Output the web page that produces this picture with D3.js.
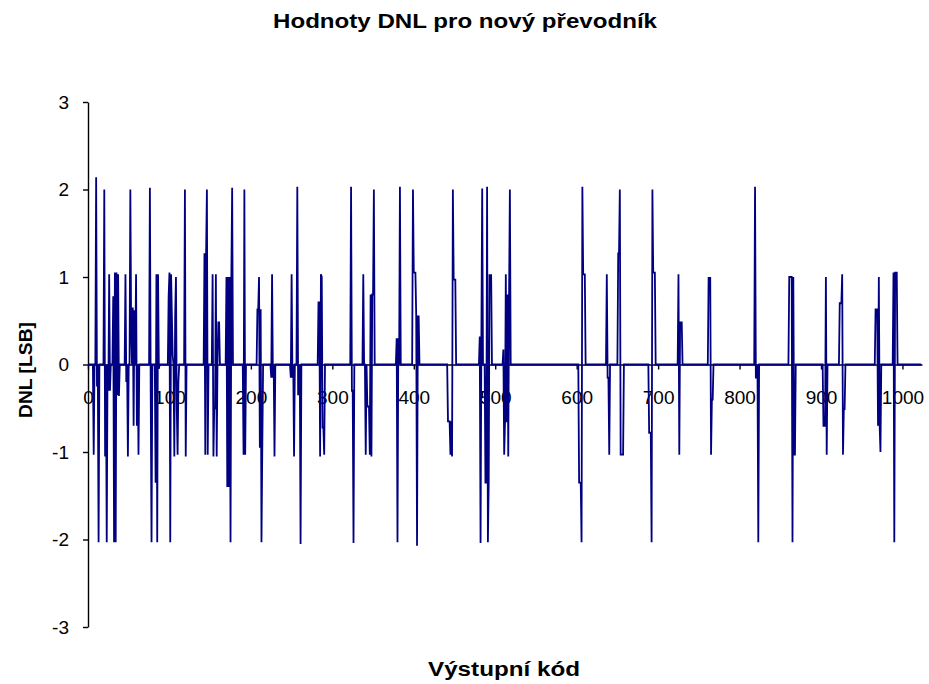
<!DOCTYPE html>
<html>
<head>
<meta charset="utf-8">
<script src="https://cdn.jsdelivr.net/npm/d3@7/dist/d3.min.js"></script>
<style>
  body { margin: 0; background: #fff; }
  svg { display: block; font-family: "Liberation Sans", Arial, sans-serif; }
  .axis path, .axis line { stroke: #000; stroke-width: 1.4; }
  .axis text { font-size: 19px; fill: #000; }
</style>
</head>
<body>
<svg id="chart" width="929" height="684"></svg>
<script>
  'use strict';

  var chartTitle = 'Hodnoty DNL pro nový převodník',
    xTitle = 'Výstupní kód',
    yTitle = 'DNL [LSB]',
    codeCount = 1024,
    xTicks = [0, 100, 200, 300, 400, 500, 600, 700, 800, 900, 1000],
    yTicks = [-3, -2, -1, 0, 1, 2, 3];

  // codes where DNL differs from zero, everything else is 0
  var spikeCodes = [
    7, 10, 11, 13, 20, 21, 23, 25, 26, 27, 31, 32, 33, 34, 35, 36, 37, 38,
    46, 47, 49, 52, 53, 55, 56, 57, 59, 60, 62,
    76, 77, 78, 83, 84, 85, 86, 87,
    99, 100, 101, 102, 103, 104, 106, 107, 108, 109, 110, 111, 119, 120,
    143, 144, 145, 146, 147, 153, 154, 155, 156, 157, 158, 160, 161,
    170, 171, 172, 173, 174, 175, 176, 177, 191, 192, 193,
    208, 209, 210, 211, 212, 213, 214, 225, 226, 227, 229,
    249, 250, 251, 253, 257, 258, 259, 261,
    283, 284, 285, 286, 287, 288, 289, 290,
    323, 324, 325, 326, 338, 341, 343, 344, 345, 346, 347, 348, 349, 350, 351,
    379, 380, 381, 383, 399, 400, 401, 402, 403, 404, 405, 406,
    442, 443, 444, 445, 446, 447, 448, 449, 450, 451,
    481, 482, 483, 484, 488, 489, 490, 491, 492, 493, 494, 495,
    510, 511, 512, 513, 514, 515, 516, 517, 518,
    603, 604, 605, 606, 607, 608, 609, 610,
    637, 638, 639, 640, 651, 652, 653, 654, 655, 656, 657,
    689, 690, 691, 692, 693, 694, 695, 696,
    725, 726, 727, 728, 729, 762, 763, 764, 765, 766, 767,
    819, 820, 821, 823,
    861, 862, 863, 864, 865, 866, 867, 868,
    903, 904, 905, 906, 907, 923, 924, 925, 926, 927, 928, 929,
    967, 968, 969, 970, 971, 972, 973, 989, 990, 991, 992, 993
  ];
  var spikeValues = [
    -1.03, 2.14, -0.25, -2.03, 2.0, -1.05, -2.03, -0.3, 1.03, -0.3, 0.78, -2.03, 1.05, -2.03, 1.05, -0.35, 1.03, -0.36,
    1.03, -0.2, -1.05, 2.0, 0.37, 0.65, -0.7, 0.62, 1.03, -0.7, -1.03,
    2.02, -0.32, -2.03, -1.35, 1.03, -2.03, 1.03, -0.05,
    0.78, 1.05, -2.03, 1.03, 0.55, 0.1, -1.05, 0.55, 1.0, -0.5, -1.03, -0.2, 2.0, -1.05,
    1.27, -1.03, 1.27, 2.0, -1.03, 1.03, -1.05, -0.5, -0.5, 1.03, -1.05, 0.48, 0.48,
    1.0, -1.4, 1.0, -1.4, 1.0, -2.03, 1.0, 2.02, -1.03, 2.0, -1.03,
    0.63, 0.63, 1.0, -0.95, 0.63, -2.03, -0.95, -0.15, 1.03, -0.15, -1.05,
    -0.15, 1.03, -0.15, -1.05, 2.03, -0.34, -0.34, -2.05,
    0.71, 0.71, -1.05, 1.03, 1.0, -0.72, -0.72, -1.03,
    2.03, -0.3, -0.3, -2.04, 1.03, -1.03, -0.48, -0.48, -0.48, -1.03, 0.8, -1.05, 0.8, 0.8, 2.0,
    0.3, -2.03, 0.3, 2.03, 2.0, 1.05, 1.05, 1.05, 0.55, -2.07, 0.55, 0.55,
    -0.65, -0.65, -0.65, -1.03, -0.65, -1.05, 2.0, 0.97, 0.97, 0.97,
    0.32, -2.04, 0.32, 2.01, -1.35, -1.35, 2.03, -2.03, -1.35, 1.02, 1.02, 1.02,
    0.17, -1.03, -0.66, 1.03, -0.66, 0.8, -1.05, 0.8, 2.0,
    -1.35, -1.35, -1.35, -2.03, 2.03, 1.03, 1.03, 1.03,
    1.03, -0.15, -0.15, -1.03, 1.27, 1.27, 2.0, -1.03, -1.03, -1.03, -1.03,
    -0.78, -0.78, -0.78, -2.03, 2.0, 1.05, 1.05, 1.05,
    1.03, -1.03, 0.48, 0.48, 0.48, 0.99, 0.99, 0.99, -1.03, -0.4, -0.4,
    2.03, -0.15, -0.15, -2.03,
    1.0, 1.0, 1.0, 1.0, -2.03, 1.0, -1.03, -1.03,
    -0.7, -0.7, -0.7, 1.0, -1.03, 0.7, 0.7, 0.7, 1.03, -1.03, -0.51, -0.51,
    0.63, 0.63, 0.63, -0.7, 1.0, -0.7, -1.0, 1.05, -2.03, 1.05, 1.05, 1.05
  ];

  var dnl = d3.range(codeCount).map(function () { return 0; });
  spikeCodes.forEach(function (c, i) { dnl[c] = spikeValues[i]; });

  var svg = d3.select('#chart');
  svg.append('rect').attr('width', 929).attr('height', 684).attr('fill', '#fff');

  var x = d3.scaleLinear().domain([0, codeCount]).range([88, 922]),
    y = d3.scaleLinear().domain([-3, 3]).range([627, 102]);

  // plain hyphen like the original, not d3's unicode minus
  var plain = function (d) { return String(d); };

  // x axis sits on the zero line, labels pushed below it
  svg.append('g')
    .attr('class', 'axis')
    .attr('transform', 'translate(0,' + y(0) + ')')
    .call(d3.axisBottom(x).tickValues(xTicks).tickFormat(plain)
      .tickSize(5).tickSizeOuter(0).tickPadding(21));

  svg.append('g')
    .attr('class', 'axis')
    .attr('transform', 'translate(' + x(0) + ',0)')
    .call(d3.axisLeft(y).tickValues(yTicks).tickFormat(plain)
      .tickSize(5).tickSizeOuter(0).tickPadding(14));

  var line = d3.line()
    .x(function (d, i) { return x(i); })
    .y(function (d) { return y(d); });

  svg.append('path')
    .datum(dnl)
    .attr('fill', 'none')
    .attr('stroke', '#000080')
    .attr('stroke-width', 1.8)
    .attr('d', line);

  // the original's bold text is drawn wide, so stretch the glyphs a bit
  svg.append('text')
    .attr('x', 465).attr('y', 28)
    .attr('text-anchor', 'middle')
    .attr('font-size', 20).attr('font-weight', 'bold')
    .attr('textLength', 384).attr('lengthAdjust', 'spacingAndGlyphs')
    .text(chartTitle);

  svg.append('text')
    .attr('x', 504).attr('y', 676)
    .attr('text-anchor', 'middle')
    .attr('font-size', 20).attr('font-weight', 'bold')
    .attr('textLength', 152).attr('lengthAdjust', 'spacingAndGlyphs')
    .text(xTitle);

  svg.append('text')
    .attr('transform', 'translate(32,370) rotate(-90)')
    .attr('text-anchor', 'middle')
    .attr('font-size', 19).attr('font-weight', 'bold')
    .attr('textLength', 96).attr('lengthAdjust', 'spacingAndGlyphs')
    .text(yTitle);
</script>
</body>
</html>
